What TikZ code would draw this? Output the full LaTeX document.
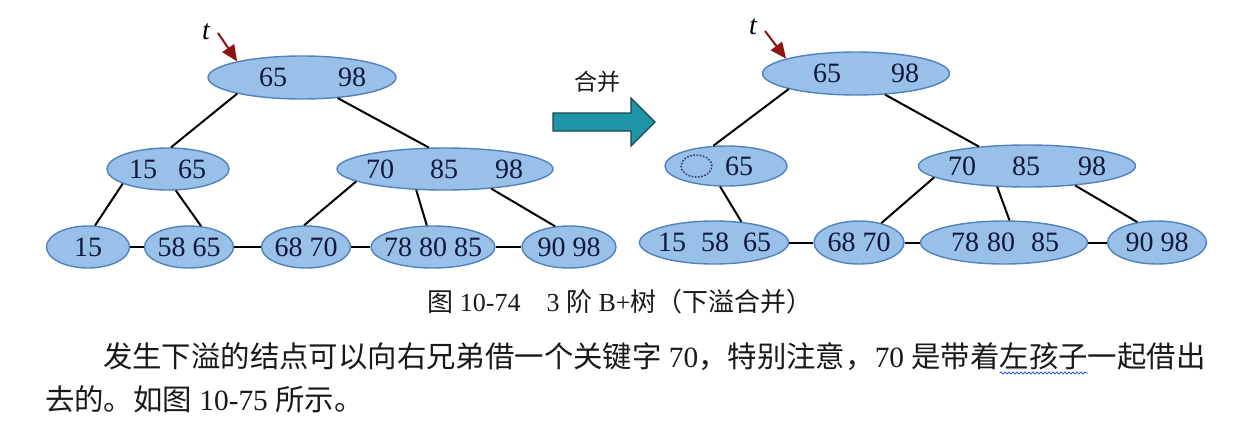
\documentclass[tikz,border=0pt]{standalone}
\usepackage{fontspec}
\setmainfont{Liberation Serif}
\newfontfamily\cjk{Noto Sans CJK SC}
\usetikzlibrary{shapes.geometric,arrows.meta,decorations.pathmorphing}
\definecolor{nodefill}{RGB}{152,192,232}
\definecolor{nodeedge}{RGB}{80,130,190}
\definecolor{keyc}{RGB}{15,25,60}
\definecolor{tred}{RGB}{140,20,20}
\definecolor{bigarrowfill}{RGB}{30,150,168}
\definecolor{bigarrowedge}{RGB}{25,70,85}
\definecolor{dashc}{RGB}{60,50,130}
\definecolor{wavec}{RGB}{60,90,200}
\definecolor{txtc}{RGB}{25,25,25}
\tikzset{
  bnode/.style={ellipse, draw=nodeedge, fill=nodefill, line width=1.4pt, inner sep=0pt},
  keytxt/.style={text=keyc, font=\fontsize{28pt}{30pt}\selectfont, inner sep=0pt},
  edge/.style={draw=black, line width=2pt},
  tarrow/.style={draw=tred, line width=2pt, -{Triangle[length=16pt,width=14pt]}},
  tlabel/.style={text=black, font=\fontsize{28pt}{30pt}\selectfont\itshape, inner sep=0pt},
  bodytxt/.style={text=txtc, font=\fontsize{29.4pt}{32pt}\selectfont, inner sep=0pt, outer sep=0pt, anchor=base west},
}
\begin{document}
\begin{tikzpicture}[x=1pt,y=-1pt]
\useasboundingbox (0,0) rectangle (1255,426);
\fill[white] (0,0) rectangle (1255,426);

% ---------- left tree ----------
\node[bnode, minimum width=188pt, minimum height=43pt] (rootL) at (302,77.5) {};
\node[bnode, minimum width=122pt, minimum height=42pt] (lcL) at (168,169) {};
\node[bnode, minimum width=216pt, minimum height=42pt] (rcL) at (445,169) {};
\node[bnode, minimum width=83pt, minimum height=42pt] (l1) at (88,247) {};
\node[bnode, minimum width=89pt, minimum height=42pt] (l2) at (189,247) {};
\node[bnode, minimum width=89pt, minimum height=42pt] (l3) at (306,247) {};
\node[bnode, minimum width=124pt, minimum height=42pt] (l4) at (433,247) {};
\node[bnode, minimum width=94pt, minimum height=42pt] (l5) at (569,247) {};

\node[keytxt] (kL1) at (273,77.5) {65};
\node[keytxt] (kL2) at (352,77.5) {98};
\node[keytxt] (kL3) at (143,169) {15};
\node[keytxt] (kL4) at (192,169) {65};
\node[keytxt] (kL5) at (380,169) {70};
\node[keytxt] (kL6) at (444,169) {85};
\node[keytxt] (kL7) at (509,169) {98};
\node[keytxt] (kL8) at (88,247) {15};
\node[keytxt] (kL9) at (189,247) {58 65};
\node[keytxt] (kL10) at (306,247) {68 70};
\node[keytxt] (kL11) at (433,247) {78 80 85};
\node[keytxt] (kL12) at (569,247) {90 98};

\draw[edge] (rootL.194) -- (lcL.82);
\draw[edge] (rootL.-30) -- (rcL.127);
\draw[edge] (lcL.-162) -- (l1.72);
\draw[edge] (lcL.-70) -- (l2.60);
\draw[edge] (rcL.-172) -- (l3.95);
\draw[edge] (rcL.-144) -- (l4.106);
\draw[edge] (rcL.-23) -- (l5.124);
\draw[edge] (l1.east) -- (l2.west);
\draw[edge] (l2.east) -- (l3.west);
\draw[edge] (l3.east) -- (l4.west);
\draw[edge] (l4.east) -- (l5.west);

\node[tlabel] (tL) at (206,32) {t};
\coordinate (tLs) at (218,33);
\draw[tarrow] (tLs) -- (rootL.166);

% ---------- big arrow ----------
\node[text=txtc, font=\fontsize{23pt}{25pt}\selectfont\cjk, inner sep=0pt] (merge) at (597,82) {合并};
\draw[fill=bigarrowfill, draw=bigarrowedge, line width=1.2pt, line join=miter]
  (553,113) -- (631,113) -- (631,98) -- (655,122) -- (631,146) -- (631,131) -- (553,131) -- cycle;

% ---------- right tree ----------
\node[bnode, minimum width=187pt, minimum height=43pt] (rootR) at (856,73.5) {};
\node[bnode, minimum width=122pt, minimum height=40pt] (lcR) at (726,166) {};
\node[bnode, minimum width=217pt, minimum height=42pt] (rcR) at (1027,166) {};
\node[bnode, minimum width=149pt, minimum height=43pt] (m1) at (714,242.5) {};
\node[bnode, minimum width=90pt, minimum height=43pt] (m2) at (859,242.5) {};
\node[bnode, minimum width=167pt, minimum height=43pt] (m3) at (1004,242.5) {};
\node[bnode, minimum width=99pt, minimum height=43pt] (m4) at (1157,242.5) {};

\node[ellipse, draw=dashc, line width=1.5pt, dash pattern=on 1.6pt off 1.6pt,
      minimum width=31pt, minimum height=22pt, inner sep=0pt] (hole) at (696.5,166) {};

\node[keytxt] (kR1) at (827,73.5) {65};
\node[keytxt] (kR2) at (905,73.5) {98};
\node[keytxt] (kR3) at (739,166) {65};
\node[keytxt] (kR4) at (962,166) {70};
\node[keytxt] (kR5) at (1026,166) {85};
\node[keytxt] (kR6) at (1092,166) {98};
\node[keytxt] (kR7) at (672,242.5) {15};
\node[keytxt] (kR8) at (715,242.5) {58};
\node[keytxt] (kR9) at (757,242.5) {65};
\node[keytxt] (kR10) at (859,242.5) {68 70};
\node[keytxt] (kR11) at (965,242.5) {78};
\node[keytxt] (kR12) at (1001,242.5) {80};
\node[keytxt] (kR13) at (1045,242.5) {85};
\node[keytxt] (kR14) at (1157,242.5) {90 98};

\draw[edge] (rootR.193) -- (lcR.122);
\draw[edge] (rootR.-36) -- (rcR.158);
\draw[edge] (lcR.-106) -- (m1.37);
\draw[edge] (rcR.-173) -- (m2.41);
\draw[edge] (rcR.-145) -- (m3.76);
\draw[edge] (rcR.-22) -- (m4.134);
\draw[edge] (m1.east) -- (m2.west);
\draw[edge] (m2.east) -- (m3.west);
\draw[edge] (m3.east) -- (m4.west);

\node[tlabel] (tR) at (753,27) {t};
\coordinate (tRs) at (765,31);
\draw[tarrow] (tRs) -- (rootR.168);

% ---------- caption and body ----------
\node[text=txtc, font=\fontsize{26pt}{28pt}\selectfont, inner sep=0pt] (cap) at (620,302)
  {{\cjk 图} 10-74\hspace{1em}3 {\cjk 阶} B+{\cjk 树（下溢合并）}};

\node[bodytxt] (b1) at (103,367)
  {{\cjk 发生下溢的结点可以向右兄弟借一个关键字} 70{\cjk ，特别注意，}70 {\cjk 是带着}};
\node[bodytxt] (b2) at (b1.base east) {\cjk 左孩子};
\node[bodytxt] (b3) at (b2.base east) {\cjk 一起借出};
\draw[wavec, line width=0.8pt, decorate, decoration={snake, amplitude=1pt, segment length=4pt}]
  ([yshift=-6pt]b2.base west) -- ([yshift=-6pt]b2.base east);

\node[bodytxt] (b4) at (45,410)
  {{\cjk 去的。如图} 10-75 {\cjk 所示。}};
\end{tikzpicture}
\end{document}
